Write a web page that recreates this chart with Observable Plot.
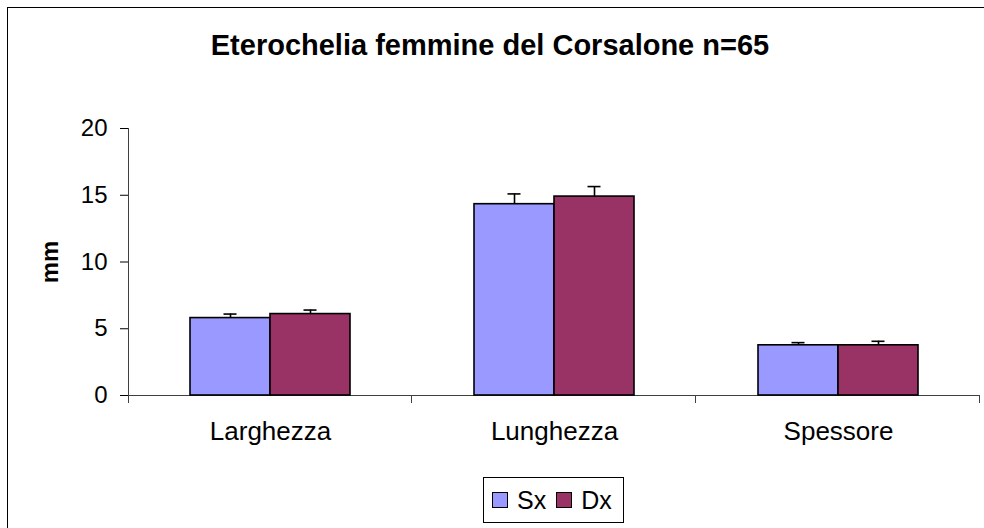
<!DOCTYPE html>
<html>
<head>
<meta charset="utf-8">
<script src="https://cdn.jsdelivr.net/npm/d3@7"></script>
<script src="https://cdn.jsdelivr.net/npm/@observablehq/plot@0.6"></script>
<style>
  body { margin: 0; background: #fff; font-family: "Liberation Sans", Arial, sans-serif; }
  #chart { position: relative; width: 984px; height: 528px; overflow: hidden; background: #fff; }
  #plot { position: absolute; left: 0; top: 0; }
  #border { position: absolute; left: 7px; top: 7px; width: 1000px; height: 600px; border: 1px solid #000; box-sizing: border-box; pointer-events: none; }
  #title { position: absolute; left: 0; top: 31px; width: 980px; text-align: center; font-weight: bold; font-size: 29px; line-height: 29px; color: #000; white-space: nowrap; }
  #ylabel { position: absolute; left: 20px; top: 247px; width: 60px; height: 30px; line-height: 30px; text-align: center; font-weight: bold; font-size: 24px; transform: rotate(-90deg); color: #000; }
  #legend { position: absolute; left: 483px; top: 477px; width: 141px; height: 46px; border: 1px solid #000; box-sizing: border-box; display: flex; align-items: center; padding-left: 8px; background: #fff; }
  .sw { width: 16px; height: 16px; border: 1px solid #000; box-sizing: border-box; margin-right: 9px; }
  .lt { font-size: 25px; line-height: 25px; margin-right: 10px; color: #000; }
  g[aria-label="fx-axis tick label"] { font-size: 26px; }
</style>
</head>
<body>
<div id="chart">
  <div id="plot"></div>
  <div id="title"></div>
  <div id="ylabel"></div>
  <div id="legend"></div>
  <div id="border"></div>
</div>
<script>
// ---- data ----
const titleText = "Eterochelia femmine del Corsalone n=65";
const yLabel = "mm";
const categories = ["Larghezza", "Lunghezza", "Spessore"];
const series = ["Sx", "Dx"];
const sxValues = [5.8, 14.33, 3.76];
const dxValues = [6.1, 14.9, 3.76];
const sxErr = [0.3, 0.77, 0.2];
const dxErr = [0.3, 0.75, 0.3];
const yTicks = [0, 5, 10, 15, 20];

// ---- styles ----
const seriesColors = ["#9999FF", "#993366"];
const axisColor = "#404040";

const table = [];
categories.forEach((c, i) => {
  table.push({category: c, series: "Sx", value: sxValues[i], err: sxErr[i]});
  table.push({category: c, series: "Dx", value: dxValues[i], err: dxErr[i]});
});

const plot = Plot.plot({
  width: 984,
  height: 470,
  marginTop: 128,
  marginBottom: 75,
  marginLeft: 127,
  marginRight: 3,
  style: {fontSize: "24px", fontFamily: "'Liberation Sans', Arial, sans-serif", color: "#000", background: "transparent", overflow: "visible"},
  fx: {domain: categories, padding: 0, label: null, axis: "bottom", tickSize: 0, tickPadding: 26},
  x: {domain: series, paddingInner: 0, paddingOuter: 0.755, axis: null},
  y: {domain: [0, 20], ticks: yTicks, tickSize: 8, tickPadding: 13, label: null},
  color: {domain: series, range: seriesColors},
  marks: [
    Plot.ruleY([0], {stroke: axisColor, strokeWidth: 1}),
    Plot.barY(table, {fx: "category", x: "series", y: "value", fill: "series", stroke: "#000", strokeWidth: 1.6}),
    Plot.ruleX(table, {fx: "category", x: "series", y1: "value", y2: d => d.value + d.err, stroke: "#000", strokeWidth: 1.6}),
    Plot.tickY(table, {fx: "category", x: "series", y: d => d.value + d.err, stroke: "#000", strokeWidth: 1.6, insetLeft: 33.5, insetRight: 33.5})
  ]
});

// y-axis line and category boundary ticks from the plot's own scales
const fx = plot.scale("fx"), ys = plot.scale("y");
const bw = fx.bandwidth;
const edges = categories.map(c => fx.apply(c));
edges.push(edges[edges.length - 1] + bw);
const y0 = ys.apply(0), yTop = ys.apply(d3.max(yTicks));
const g = d3.select(plot).append("g").attr("stroke", axisColor).attr("stroke-width", 1).attr("fill", "none");
g.append("line").attr("x1", edges[0] + 0.5).attr("x2", edges[0] + 0.5).attr("y1", yTop).attr("y2", y0 + 8);
edges.slice(1).forEach(x => {
  g.append("line").attr("x1", x - 0.5).attr("x2", x - 0.5).attr("y1", y0).attr("y2", y0 + 8);
});
d3.select(plot).selectAll("g[aria-label='y-axis tick']").attr("stroke", axisColor);

document.getElementById("plot").appendChild(plot);
document.getElementById("title").textContent = titleText;
document.getElementById("ylabel").textContent = yLabel;

const legend = document.getElementById("legend");
series.forEach((s, i) => {
  const sw = document.createElement("div");
  sw.className = "sw";
  sw.style.background = seriesColors[i];
  const t = document.createElement("div");
  t.className = "lt";
  t.textContent = s;
  legend.appendChild(sw);
  legend.appendChild(t);
});
</script>
</body>
</html>
